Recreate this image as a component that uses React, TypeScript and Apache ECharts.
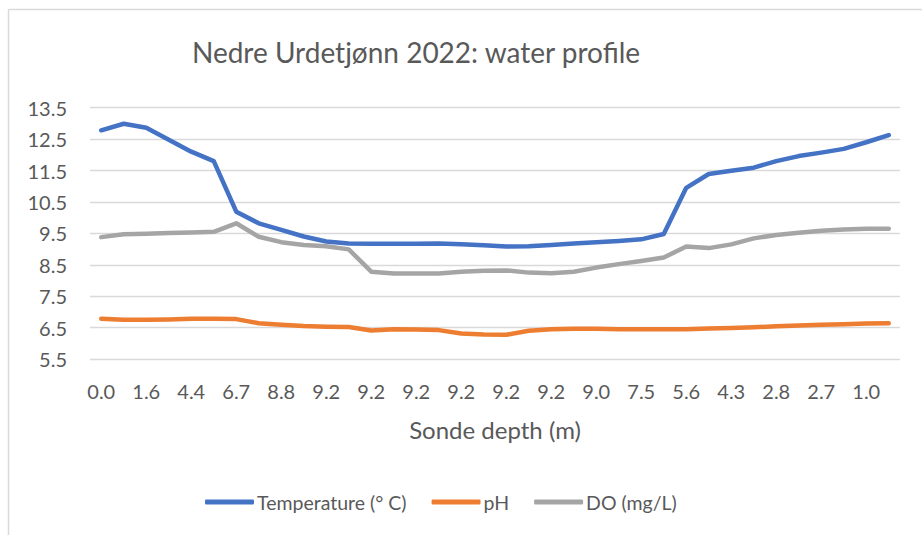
import React, { useEffect, useRef } from "react";
import * as echarts from "echarts";

const depths = [
  "0.0", "0.8", "1.6", "3.0", "4.4", "5.6", "6.7", "7.8", "8.8", "9.1",
  "9.2", "9.2", "9.2", "9.2", "9.2", "9.2", "9.2", "9.2", "9.2", "9.2",
  "9.2", "9.1", "9.0", "8.3", "7.5", "6.6", "5.6", "5.0", "4.3", "3.5",
  "2.8", "2.8", "2.7", "1.9", "1.0", "0.5",
];

const temperature = [
  12.78, 12.99, 12.86, 12.48, 12.1, 11.8, 10.19, 9.82, 9.61, 9.4,
  9.24, 9.18, 9.17, 9.17, 9.17, 9.18, 9.15, 9.12, 9.08, 9.09,
  9.13, 9.18, 9.22, 9.26, 9.31, 9.48, 10.95, 11.39, 11.49, 11.59,
  11.8, 11.96, 12.07, 12.19, 12.4, 12.63,
];

const pH = [
  6.78, 6.75, 6.75, 6.76, 6.78, 6.78, 6.77, 6.64, 6.59, 6.55,
  6.53, 6.52, 6.41, 6.45, 6.44, 6.42, 6.31, 6.28, 6.27, 6.4,
  6.45, 6.46, 6.46, 6.45, 6.45, 6.45, 6.45, 6.47, 6.49, 6.51,
  6.54, 6.57, 6.59, 6.61, 6.63, 6.64,
];

const dissolvedOxygen = [
  9.38, 9.47, 9.49, 9.51, 9.53, 9.55, 9.82, 9.39, 9.22, 9.13,
  9.09, 8.99, 8.28, 8.22, 8.22, 8.22, 8.28, 8.31, 8.32, 8.25,
  8.23, 8.28, 8.41, 8.52, 8.62, 8.73, 9.08, 9.03, 9.15, 9.34,
  9.45, 9.52, 9.58, 9.62, 9.65, 9.65,
];

const yTicks = [5.5, 6.5, 7.5, 8.5, 9.5, 10.5, 11.5, 12.5, 13.5];

const seriesNames = ["Temperature (° C)", "pH", "DO (mg/L)"];
const seriesColors = ["#4472C4", "#ED7D31", "#A5A5A5"];

const FONT = "Lato";
const TEXT = "#595959";

export default function App() {
  const ref = useRef<HTMLDivElement>(null);

  useEffect(() => {
    if (!ref.current) return;
    const chart = echarts.init(ref.current, undefined, { renderer: "svg" });
    const data = [temperature, pH, dissolvedOxygen];
    chart.setOption({
      animation: false,
      backgroundColor: "#ffffff",
      title: {
        text: "Nedre Urdetjønn 2022: water profile",
        left: 411,
        top: 33,
        textAlign: "center",
        textStyle: {
          fontFamily: FONT,
          fontSize: 28,
          fontWeight: "normal",
          color: TEXT,
        },
      },
      legend: {
        data: seriesNames,
        left: 200,
        top: 487,
        itemWidth: 49,
        itemHeight: 5,
        itemGap: 25,
        icon: "roundRect",
        textStyle: { fontFamily: FONT, fontSize: 19.5, color: TEXT, padding: [0, 0, 0, -2] },
      },
      grid: { left: 90, right: 22, top: 107.7, bottom: 176, containLabel: false },
      xAxis: {
        type: "category",
        data: depths,
        boundaryGap: true,
        name: "Sonde depth (m)",
        nameLocation: "middle",
        nameGap: 58,
        nameTextStyle: { fontFamily: FONT, fontSize: 24, color: TEXT },
        axisLine: { show: false },
        axisTick: { show: false },
        axisLabel: {
          interval: 1,
          margin: 22,
          fontFamily: FONT,
          fontSize: 20,
          color: TEXT,
        },
        splitLine: { show: false },
      },
      yAxis: {
        type: "value",
        min: 5.5,
        max: 13.5,
        axisLine: { show: false },
        axisTick: { show: false, customValues: yTicks },
        axisLabel: {
          customValues: yTicks,
          margin: 23,
          fontFamily: FONT,
          fontSize: 20,
          color: TEXT,
          formatter: (v: number) => v.toFixed(1),
        },
        splitLine: { show: true, lineStyle: { color: "#d9d9d9", width: 1.3 } },
      },
      series: seriesNames.map((name, i) => ({
        name,
        type: "line",
        data: data[i],
        symbol: "none",
        smooth: false,
        color: seriesColors[i],
        lineStyle: { width: 4.5, color: seriesColors[i], cap: "round", join: "round" },
        z: 3 - i,
      })),
      graphic: [
        {
          type: "line",
          shape: { x1: 8.5, y1: 9.5, x2: 8.5, y2: 535 },
          style: { stroke: "#d9d9d9", lineWidth: 1.5 },
        },
        {
          type: "line",
          shape: { x1: 8.5, y1: 9.5, x2: 922, y2: 9.5 },
          style: { stroke: "#d9d9d9", lineWidth: 1.5 },
        },
      ],
    });
    return () => chart.dispose();
  }, []);

  return (
    <div
      ref={ref}
      style={{ position: "absolute", left: 0, top: 0, width: 922, height: 535 }}
    />
  );
}
